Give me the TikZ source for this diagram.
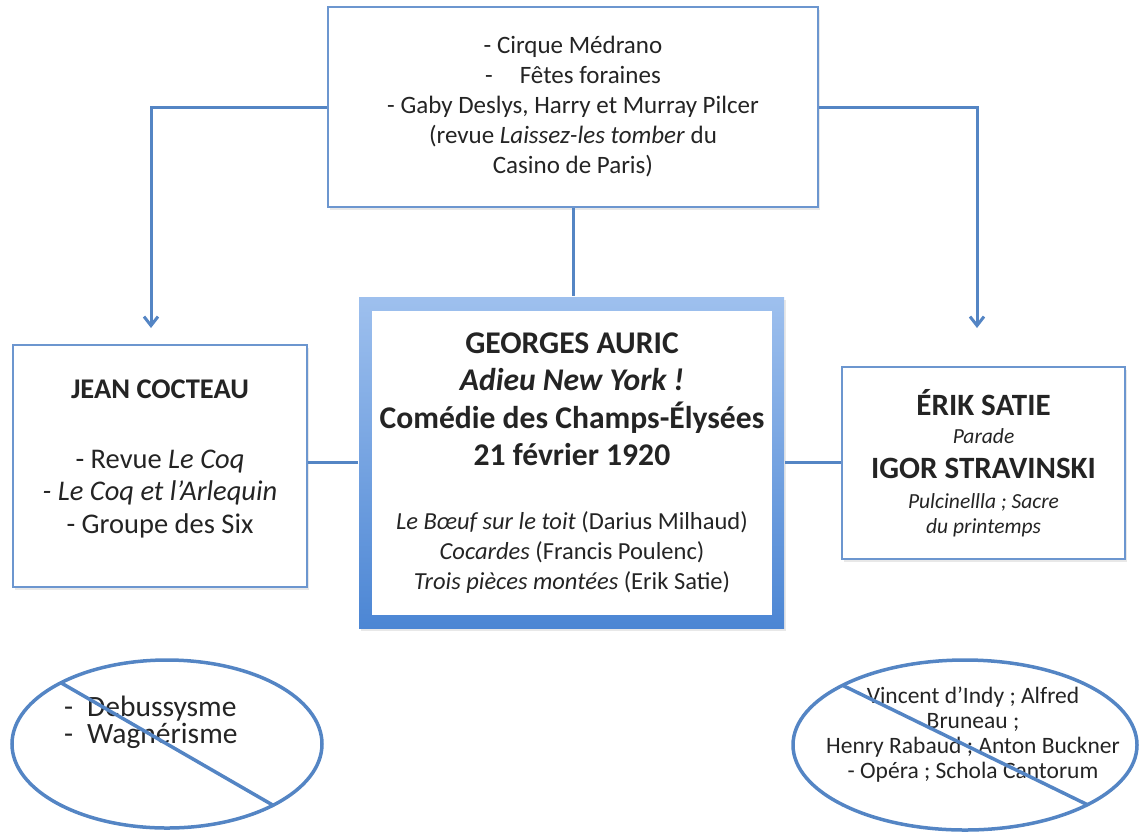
\documentclass[tikz,border=0pt]{standalone}
\usepackage{fontspec}
\setmainfont{Carlito}
\usetikzlibrary{shapes,positioning,shadows,arrows.meta}
\definecolor{lienbleu}{RGB}{84,133,196}
\definecolor{cadrebleu}{RGB}{108,150,207}
\definecolor{hautbleu}{RGB}{158,192,238}
\definecolor{basbleu}{RGB}{76,134,212}
\definecolor{texte}{RGB}{36,36,36}

\begin{document}
\begin{tikzpicture}[x=1pt,y=-1pt]
            \tikzstyle{bbox}=[draw=cadrebleu,line width=2.5pt,fill=white,rectangle,align=center,text=texte,inner sep=0pt,drop shadow={opacity=.18,shadow xshift=1.5pt,shadow yshift=-2.5pt}]
            \tikzstyle{blien}=[draw=lienbleu,line width=3pt]
            \tikzstyle{bfleche}=[blien,-{Straight Barb[length=9pt,width=14pt]}]
            \tikzstyle{bovale}=[ellipse,draw=lienbleu,line width=3.5pt,inner sep=0pt,outer sep=0pt]
            \useasboundingbox (0,0) rectangle (1139,831);

            % boites
            \node[bbox,minimum width=490pt,minimum height=200pt,font=\fontsize{25}{30}\selectfont] (sources) at (573,107)
                {- Cirque Médrano\\ -\hspace{27pt}Fêtes foraines\\ - Gaby Deslys, Harry et Murray Pilcer\\ (revue \textit{Laissez-les tomber} du\\ Casino de Paris)};
            \node[bbox,minimum width=294pt,minimum height=242pt,font=\fontsize{28.5}{32.5}\selectfont] (cocteau) at (160,466)
                {\textbf{JEAN COCTEAU}\\[37.5pt] - Revue \textit{Le Coq}\\ \textit{- Le Coq et l’Arlequin}\\ - Groupe des Six\rule[-19pt]{0pt}{19pt}};
            \node[bbox,draw=none,top color=hautbleu,bottom color=basbleu,minimum width=425pt,minimum height=331pt] (auric) at (571.5,462.5) {};
            \node[fill=white,minimum width=400pt,minimum height=304pt,inner sep=0pt,align=center,text=texte,font=\fontsize{24.5}{37.5}\selectfont] (auric-txt) at (572,463)
                {{\fontsize{31.6}{37.5}\selectfont\bfseries GEORGES AURIC}\\
                 {\fontsize{31.6}{37.5}\selectfont\bfseries\itshape Adieu New York !}\\
                 {\fontsize{31.6}{37.5}\selectfont\bfseries Comédie des Champs-Élysées}\\
                 {\fontsize{31.6}{37.5}\selectfont\bfseries 21 février 1920}\\[26.5pt]
                 \textit{Le Bœuf sur le toit} (Darius Milhaud)\\[-7.5pt]
                 \textit{Cocardes} (Francis Poulenc)\\[-7.5pt]
                 \textit{Trois pièces montées} (Erik Satie)};
            \node[bbox,minimum width=283pt,minimum height=192pt,font=\fontsize{21.5}{28}\selectfont\itshape] (satie) at (983.5,463)
                {{\fontsize{31}{28}\selectfont\bfseries\upshape ÉRIK SATIE}\\ Parade\\[7pt]
                 {\fontsize{31}{28}\selectfont\bfseries\upshape IGOR STRAVINSKI}\\[2pt]
                 Pulcinellla ; Sacre\\[-3pt] du printemps};

            % liens
            \coordinate (versjean) at (151,328);
            \coordinate (verserik) at (977,328);
            \draw[blien] (sources.south) -- (sources.south |- auric.north);
            \draw[bfleche] (sources.west) -| (versjean);
            \draw[bfleche] (sources.east) -| (verserik);
            \draw[blien] (cocteau.east |- auric.west) -- (auric.west);
            \draw[blien] (auric.east) -- (satie.west |- auric.east);

            % refus
            \node[bovale,minimum width=310pt,minimum height=168pt] (nonjean) at (167,744) {};
            \node[font=\fontsize{29.5}{27}\selectfont,align=left,anchor=west,inner sep=0pt,text=texte] (nonjean-txt) at (64,722)
                {-\hspace{14pt}Debussysme\\ -\hspace{14pt}Wagnérisme};
            \draw[blien,line width=3.5pt] (nonjean.150) -- (nonjean.-30);
            \node[bovale,minimum width=344pt,minimum height=170pt] (nonerik) at (965,745) {};
            \node[font=\fontsize{23.5}{25}\selectfont,align=center,inner sep=0pt,text=texte] (nonerik-txt) at (973,734.5)
                {Vincent d’Indy ; Alfred\\ Bruneau ;\\ Henry Rabaud ; Anton Buckner\\ - Opéra ; Schola Cantorum};
            \draw[blien,line width=3.5pt] (nonerik.154) -- (nonerik.-26);
\end{tikzpicture}
\end{document}
